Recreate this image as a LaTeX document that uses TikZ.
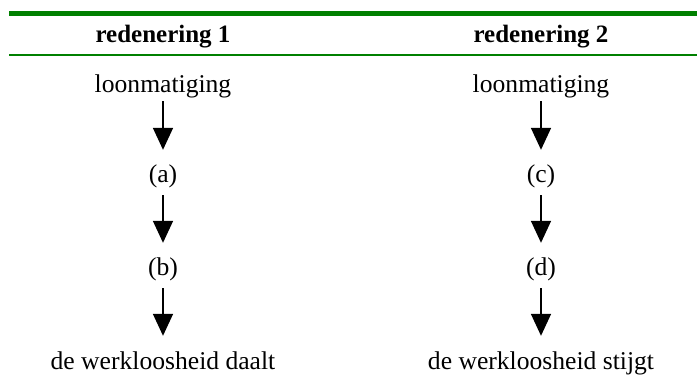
\documentclass[tikz,border=0pt]{standalone}
\usepackage{fontspec}
\setmainfont{Liberation Serif}
\usetikzlibrary{arrows.meta}
\definecolor{rulegreen}{HTML}{008000}
\tikzset{
  hd/.style={anchor=base, inner sep=0pt, font=\bfseries\fontsize{25}{30}\selectfont},
  txt/.style={anchor=base, inner sep=0pt, text height=17pt, text depth=5.5pt, font=\fontsize{25.6}{30}\selectfont},
  arr/.style={line width=1.7pt, -{Triangle[length=22pt,width=20pt]}, shorten >=15pt, shorten <=7.5pt},
  rulethick/.style={rulegreen, line width=4.5pt},
  rulethin/.style={rulegreen, line width=2pt}
}
\begin{document}
\begin{tikzpicture}[x=1pt,y=-1pt]
\useasboundingbox (0,0) rectangle (697,378);
\draw[rulethick] (9,13.25) -- (697,13.25);
\draw[rulethin] (9,55) -- (697,55);
\node[hd] (h1) at (163,42) {redenering 1};
\node[hd] (h2) at (541,42) {redenering 2};
% left column
\node[txt] (l1) at (163,92) {loonmatiging};
\node[txt] (a) at (163,182) {(a)};
\node[txt] (b) at (163,275) {(b)};
\node[txt] (e1) at (163,369) {de werkloosheid daalt};
% right column
\node[txt] (l2) at (541,92) {loonmatiging};
\node[txt] (c) at (541,182) {(c)};
\node[txt] (d) at (541,275) {(d)};
\node[txt] (e2) at (541,369) {de werkloosheid stijgt};
\draw[arr, shorten <=3.5pt] (l1.south) -- (a.north);
\draw[arr] (a.south) -- (b.north);
\draw[arr, shorten >=16pt] (b.south) -- (e1.north);
\draw[arr, shorten <=3.5pt] (l2.south) -- (c.north);
\draw[arr] (c.south) -- (d.north);
\draw[arr, shorten >=16pt] (d.south) -- (e2.north);
\end{tikzpicture}
\end{document}
